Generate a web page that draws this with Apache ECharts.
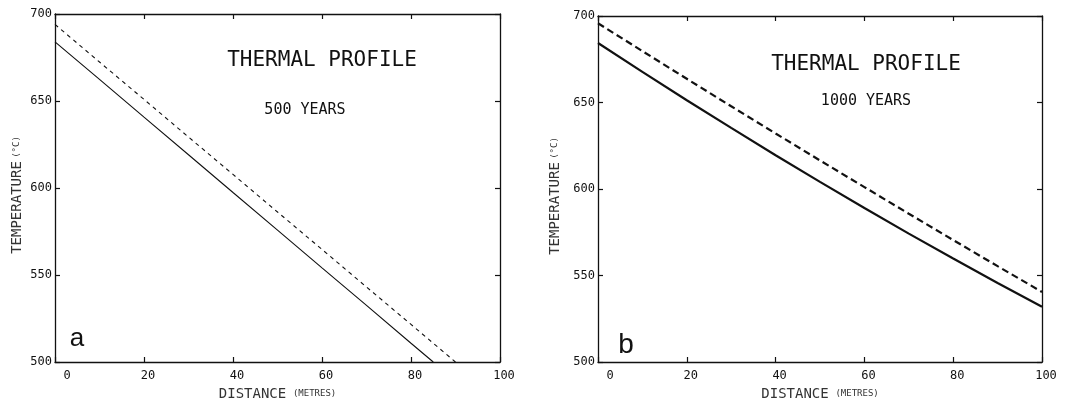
<!DOCTYPE html>
<html>
<head>
<meta charset="utf-8">
<script src="https://cdn.jsdelivr.net/npm/echarts@6/dist/echarts.min.js"></script>
<style>
  html, body { margin: 0; padding: 0; background: #fff; }
  #chart { width: 1065px; height: 406px; }
</style>
</head>
<body>
<div id="chart"></div>
<script>
// panel a: 500 years (straight profiles ending at 500 C)
var distSolidA = [0, 10, 20, 30, 40, 50, 60, 70, 80, 85];
var tempSolidA = [684, 662.4, 640.7, 619.1, 597.4, 575.8, 554.1, 532.5, 510.8, 500];
var distDashA = [0, 10, 20, 30, 40, 50, 60, 70, 80, 90];
var tempDashA = [694, 672.4, 650.9, 629.3, 607.8, 586.2, 564.7, 543.1, 521.6, 500];

// panel b: 1000 years
var distB = [0, 10, 20, 30, 40, 50, 60, 70, 80, 90, 100];
var tempSolidB = [684.4, 667.7, 651.3, 635.3, 619.5, 604.1, 589.0, 574.2, 559.8, 545.7, 531.9];
var tempDashB = [695.8, 679.7, 663.7, 647.8, 632.1, 616.5, 601.1, 585.7, 570.5, 555.4, 540.5];

var panelTitles = ['THERMAL PROFILE', 'THERMAL PROFILE'];
var panelYears = ['500 YEARS', '1000 YEARS'];
var panelLetters = ['a', 'b'];

var MONO = '"DejaVu Sans Mono", monospace';
var INK = '#111';

function zip(xs, ys) {
    return xs.map(function (x, i) { return [x, ys[i]]; });
}

function bottomAxis(gridIndex) {
    return {
        type: 'value', gridIndex: gridIndex, position: 'bottom',
        min: 0, max: 100, interval: 20,
        name: '{big|DISTANCE}  {small|(METRES)}',
        nameLocation: 'middle', nameGap: 25,
        nameTextStyle: {
            rich: {
                big: { fontFamily: MONO, fontSize: 14, color: '#333' },
                small: { fontFamily: MONO, fontSize: 9, color: '#333' }
            }
        },
        axisLine: { show: true, onZero: false, lineStyle: { color: INK, width: 1.3 } },
        axisTick: { show: true, inside: true, length: 5, lineStyle: { color: INK, width: 1.2 } },
        axisLabel: {
            fontFamily: MONO, fontSize: 12, color: INK, margin: 8,
            formatter: function (v) { return v === 0 ? '{z|0}' : '{n|' + v + '}'; },
            rich: {
                z: { fontFamily: MONO, fontSize: 12, color: INK, padding: [0, 0, 0, 24] },
                n: { fontFamily: MONO, fontSize: 12, color: INK, padding: [0, 0, 0, 8] }
            }
        },
        splitLine: { show: false }
    };
}

function topAxis(gridIndex) {
    return {
        type: 'value', gridIndex: gridIndex, position: 'top',
        min: 0, max: 100, interval: 20,
        axisLine: { show: true, onZero: false, lineStyle: { color: INK, width: 1.3 } },
        axisTick: { show: true, inside: true, length: 5, lineStyle: { color: INK, width: 1.2 } },
        axisLabel: { show: false },
        splitLine: { show: false }
    };
}

function leftAxis(gridIndex, gap) {
    return {
        type: 'value', gridIndex: gridIndex, position: 'left',
        min: 500, max: 700, interval: 50,
        name: '{big|TEMPERATURE} {small|(°C)}',
        nameLocation: 'middle', nameGap: gap, nameRotate: 90,
        nameTextStyle: {
            padding: [0, 14, 0, 0],
            rich: {
                big: { fontFamily: MONO, fontSize: 14, color: '#333' },
                small: { fontFamily: MONO, fontSize: 9, color: '#333' }
            }
        },
        axisLine: { show: true, onZero: false, lineStyle: { color: INK, width: 1.3 } },
        axisTick: { show: true, inside: true, length: 5, lineStyle: { color: INK, width: 1.2 } },
        axisLabel: {
            fontFamily: MONO, fontSize: 12, color: INK, margin: 3,
            padding: [0, 0, 6, 0]
        },
        splitLine: { show: false }
    };
}

function rightAxis(gridIndex) {
    return {
        type: 'value', gridIndex: gridIndex, position: 'right',
        min: 500, max: 700, interval: 50,
        axisLine: { show: true, onZero: false, lineStyle: { color: INK, width: 1.3 } },
        axisTick: { show: true, inside: true, length: 5, lineStyle: { color: INK, width: 1.2 } },
        axisLabel: { show: false },
        splitLine: { show: false }
    };
}

function lineSeries(axisIndex, data, width, dash) {
    return {
        type: 'line', xAxisIndex: axisIndex, yAxisIndex: axisIndex,
        data: data, showSymbol: false, symbol: 'none', smooth: false,
        lineStyle: { color: INK, width: width, type: dash || 'solid' },
        silent: true, animation: false
    };
}

function label(x, y, text, size, family) {
    return {
        type: 'text', x: x, y: y,
        style: {
            text: text, fill: INK, fontSize: size,
            fontFamily: family || MONO,
            align: 'center', verticalAlign: 'middle'
        }
    };
}

var chart = echarts.init(document.getElementById('chart'), null, { renderer: 'canvas' });

chart.setOption({
    backgroundColor: '#fff',
    animation: false,
    grid: [
        { left: 55, top: 14, width: 445, height: 348 },
        { left: 598, top: 16, width: 444, height: 349 }
    ],
    xAxis: [bottomAxis(0), bottomAxis(1), topAxis(0), topAxis(1)],
    yAxis: [leftAxis(0, 31), leftAxis(1, 36), rightAxis(0), rightAxis(1)],
    series: [
        lineSeries(0, zip(distSolidA, tempSolidA), 1.1),
        lineSeries(0, zip(distDashA, tempDashA), 1.1, [4, 4]),
        lineSeries(1, zip(distB, tempSolidB), 2.2),
        lineSeries(1, zip(distB, tempDashB), 2.2, [7, 4])
    ],
    graphic: [
        label(322, 61, panelTitles[0], 21),
        label(305, 110, panelYears[0], 15),
        label(866, 65, panelTitles[1], 21),
        label(866, 101, panelYears[1], 15),
        label(77, 339, panelLetters[0], 26, '"Liberation Sans", Arial, sans-serif'),
        label(626, 345, panelLetters[1], 28, '"Liberation Sans", Arial, sans-serif')
    ]
});

window.addEventListener('resize', function () { chart.resize(); });
</script>
</body>
</html>
